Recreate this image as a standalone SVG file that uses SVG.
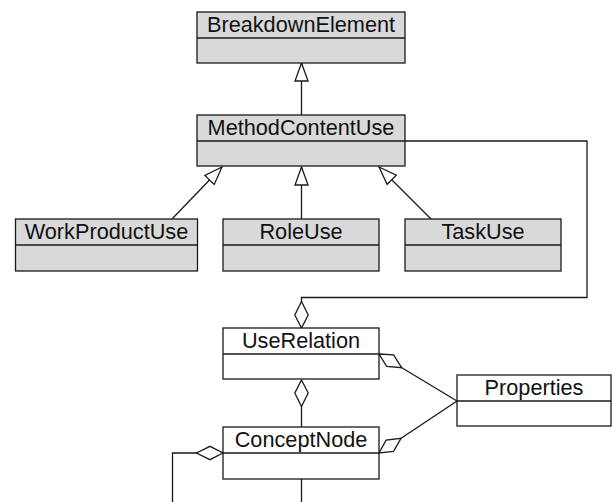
<svg xmlns="http://www.w3.org/2000/svg" width="612" height="502" viewBox="0 0 612 502">
<defs>
<style>
.box{stroke:#1a1a1a;stroke-width:1.3}
.g{fill:#d9d9d9}
.w{fill:#ffffff}
.div{stroke:#1a1a1a;stroke-width:1.3}
.t{font-family:"Liberation Sans",Arial,sans-serif;font-size:21.7px;fill:#111;text-anchor:middle}
.c{fill:none;stroke:#1a1a1a;stroke-width:1.3}
.gen{marker-end:url(#tri)}
.agg{marker-start:url(#dia)}
</style>
<marker id="tri" markerUnits="userSpaceOnUse" markerWidth="20" markerHeight="16" refX="18" refY="7" orient="auto" overflow="visible">
<path d="M18,7 L0,0.5 L0,13.5 Z" fill="#fff" stroke="#1a1a1a" stroke-width="1.3"/>
</marker>
<marker id="dia" markerUnits="userSpaceOnUse" markerWidth="28" markerHeight="16" refX="0" refY="7" orient="auto" overflow="visible">
<path d="M0,7 L13,0.3 L26.5,7 L13,13.7 Z" fill="#fff" stroke="#1a1a1a" stroke-width="1.3"/>
</marker>
</defs>
<rect width="612" height="502" fill="#fff"/>
<g id="connectors">
<line class="c gen" x1="301.5" y1="115" x2="301.5" y2="63"/>
<line class="c gen" x1="172" y1="219" x2="222" y2="167"/>
<line class="c gen" x1="301.5" y1="219" x2="301.5" y2="167"/>
<line class="c gen" x1="431" y1="219" x2="379" y2="167"/>
<polyline class="c agg" points="301.5,328 301.5,297.5 587,297.5 587,141 405,141"/>
<line class="c agg" x1="379" y1="354" x2="457" y2="401"/>
<line class="c agg" x1="379" y1="453" x2="457" y2="401"/>
<line class="c agg" x1="301.5" y1="380" x2="301.5" y2="427"/>
<polyline class="c agg" points="223,453 172.5,453 172.5,504"/>
<line class="c" x1="301.5" y1="479" x2="301.5" y2="504"/>
</g>
<g id="BreakdownElement">
<rect class="box g" x="197" y="12" width="208" height="51"/>
<line class="div" x1="197" y1="38" x2="405" y2="38"/>
<text class="t" x="301" y="32">BreakdownElement</text>
</g>
<g id="MethodContentUse">
<rect class="box g" x="197" y="115" width="208" height="51"/>
<line class="div" x1="197" y1="141" x2="405" y2="141"/>
<text class="t" x="301" y="135">MethodContentUse</text>
</g>
<g id="WorkProductUse">
<rect class="box g" x="15.5" y="219" width="182" height="52"/>
<line class="div" x1="15.5" y1="245" x2="197.5" y2="245"/>
<text class="t" x="106.5" y="239">WorkProductUse</text>
</g>
<g id="RoleUse">
<rect class="box g" x="223" y="219" width="156" height="52"/>
<line class="div" x1="223" y1="245" x2="379" y2="245"/>
<text class="t" x="301" y="239">RoleUse</text>
</g>
<g id="TaskUse">
<rect class="box g" x="405" y="219" width="156" height="52"/>
<line class="div" x1="405" y1="245" x2="561" y2="245"/>
<text class="t" x="483" y="239">TaskUse</text>
</g>
<g id="UseRelation">
<rect class="box w" x="223" y="328" width="156" height="51"/>
<line class="div" x1="223" y1="354" x2="379" y2="354"/>
<text class="t" x="301" y="348">UseRelation</text>
</g>
<g id="ConceptNode">
<rect class="box w" x="223" y="427" width="156" height="52"/>
<line class="div" x1="223" y1="453" x2="379" y2="453"/>
<text class="t" x="301" y="447">ConceptNode</text>
</g>
<g id="Properties">
<rect class="box w" x="457" y="375" width="154" height="51"/>
<line class="div" x1="457" y1="401" x2="611" y2="401"/>
<text class="t" x="534" y="395">Properties</text>
</g>
</svg>
